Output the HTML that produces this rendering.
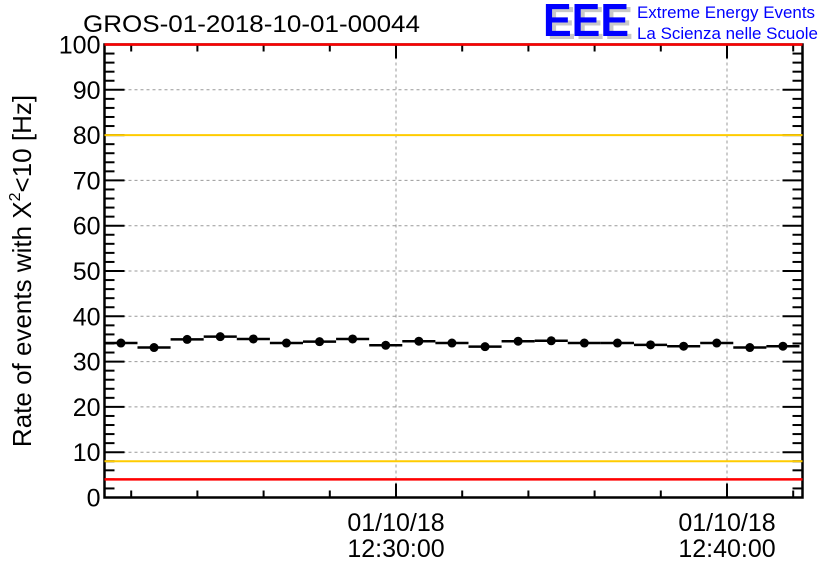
<!DOCTYPE html>
<html><head><meta charset="utf-8"><style>
html,body{margin:0;padding:0;background:#fff;}
svg{display:block;font-family:"Liberation Sans",Arial,sans-serif;}
</style></head><body>
<svg id="c" width="836" height="572" viewBox="0 0 836 572">
<rect width="836" height="572" fill="#fff"/>
<text x="83" y="32" font-size="24" fill="#000" textLength="337" lengthAdjust="spacingAndGlyphs">GROS-01-2018-10-01-00044</text>
<g>
<text x="547" y="39" font-size="46" font-weight="bold" fill="#c8c8c8" textLength="86" lengthAdjust="spacingAndGlyphs">EEE</text>
<text x="543" y="36" font-size="46" font-weight="bold" fill="#0000ff" textLength="86" lengthAdjust="spacingAndGlyphs">EEE</text>
<text x="637" y="18" font-size="17" fill="#0000ff" textLength="178" lengthAdjust="spacingAndGlyphs">Extreme Energy Events</text>
<text x="637" y="39" font-size="17" fill="#0000ff" textLength="181" lengthAdjust="spacingAndGlyphs">La Scienza nelle Scuole</text>
</g>
<text transform="translate(31,271) rotate(-90)" text-anchor="middle" font-size="26" fill="#000">Rate of events with X<tspan font-size="16" dy="-11">2</tspan><tspan dy="11">&lt;10 [Hz]</tspan></text>
<g id="grid"></g><g id="axes"></g><g id="lvl"></g><g id="marks"></g>
</svg>
<script>
const yTicks=[0,10,20,30,40,50,60,70,80,90,100];
const xMajorMinutes=[0,10];
const xMajorLabels=[["01/10/18","12:30:00"],["01/10/18","12:40:00"]];
const binCenters=[-8.31,-7.31,-6.31,-5.31,-4.31,-3.31,-2.31,-1.31,-0.31,0.69,1.69,2.69,3.69,4.69,5.69,6.69,7.69,8.69,9.69,10.69,11.69];
const rates=[34.1,33.1,34.9,35.5,35.0,34.1,34.4,35.0,33.6,34.5,34.1,33.3,34.5,34.6,34.1,34.1,33.7,33.4,34.1,33.1,33.4];
const redLevels=[4,100];
const yellowLevels=[8,80];
const L=104.5,R=802.5,T=44.5,B=497.5;
const X=m=>396+(m)*33.1;
const Y=v=>B-(v/100)*(B-T);
const NS="http://www.w3.org/2000/svg";
function mk(p,tag,a){const e=document.createElementNS(NS,tag);for(const k in a)e.setAttribute(k,a[k]);p.appendChild(e);return e;}
const grid=document.getElementById('grid'),axes=document.getElementById('axes'),lvl=document.getElementById('lvl'),marks=document.getElementById('marks');
yTicks.forEach(v=>{if(v>0&&v<100){const l=mk(grid,'line',{x1:L,x2:R,y1:Y(v),y2:Y(v),stroke:'#999','stroke-dasharray':'3,3','stroke-width':1});

}});
xMajorMinutes.forEach(m=>{const l=mk(grid,'line',{x1:X(m),x2:X(m),y1:T,y2:B,stroke:'#999','stroke-dasharray':'3,3','stroke-width':1});

});
const frame=mk(axes,'rect',{x:L,y:T,width:R-L,height:B-T,fill:'none',stroke:'#000','stroke-width':2.5});


for(let v=0;v<=100;v+=2){const major=v%10===0;const len=major?20:10;
mk(axes,'line',{x1:L,x2:L+len,y1:Y(v),y2:Y(v),stroke:'#000','stroke-width':2});
mk(axes,'line',{x1:R,x2:R-len,y1:Y(v),y2:Y(v),stroke:'#000','stroke-width':2});}
yTicks.forEach(v=>{const t=mk(axes,'text',{x:L-4,y:Y(v)+9,'text-anchor':'end','font-size':25});t.textContent=v;

});
for(let m=-8;m<=12;m+=2){const major=m%10===0;const len=major?14:7;
mk(axes,'line',{x1:X(m),x2:X(m),y1:B,y2:B-len,stroke:'#000','stroke-width':2});
mk(axes,'line',{x1:X(m),x2:X(m),y1:T,y2:T+len,stroke:'#000','stroke-width':2});}
xMajorMinutes.forEach((m,i)=>{xMajorLabels[i].forEach((s,j)=>{const t=mk(axes,'text',{x:X(m),y:531+j*26,'text-anchor':'middle','font-size':25});t.textContent=s;

});});
redLevels.forEach(v=>{const l=mk(lvl,'line',{x1:L,x2:R,y1:Y(v),y2:Y(v),stroke:'#ff0000','stroke-width':2.5});

});
yellowLevels.forEach(v=>{const l=mk(lvl,'line',{x1:L,x2:R,y1:Y(v),y2:Y(v),stroke:'#ffcc00','stroke-width':2});

});
binCenters.forEach((c,i)=>{const g=mk(marks,'g',{});


const x1=Math.max(X(c-0.5),L),x2=Math.min(X(c+0.5),R);
mk(g,'line',{x1:x1,x2:x2,y1:Y(rates[i]),y2:Y(rates[i]),stroke:'#000','stroke-width':2.5});
mk(g,'circle',{cx:X(c),cy:Y(rates[i]),r:4.5,fill:'#000'});});
</script>
</body></html>
